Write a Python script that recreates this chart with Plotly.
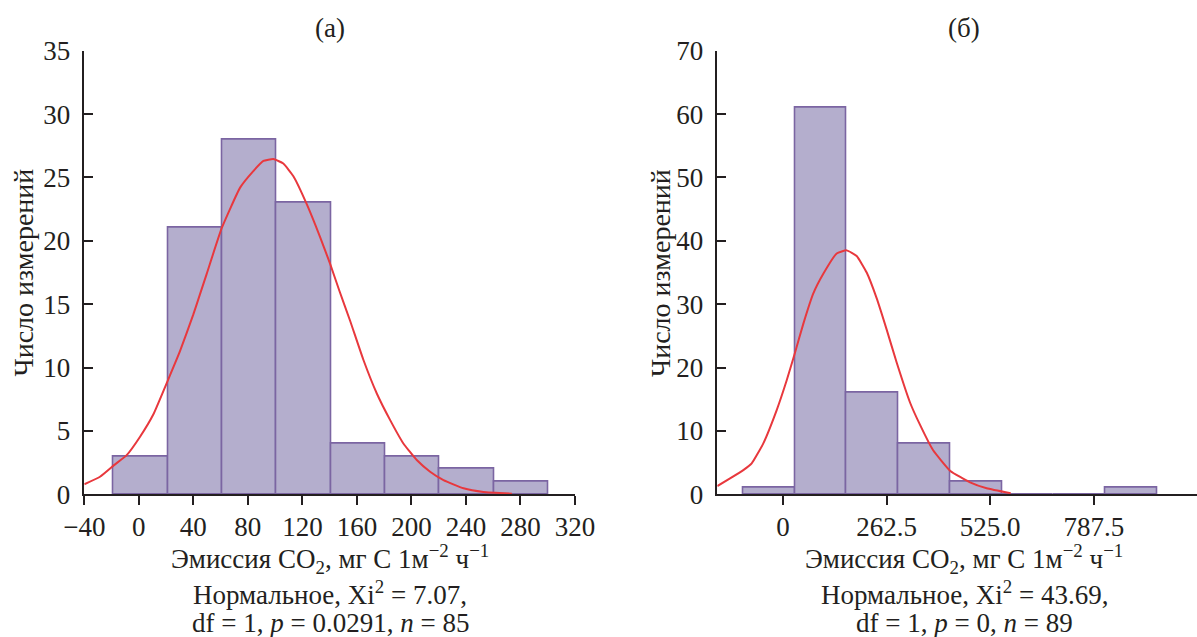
import plotly.graph_objects as go

# ---------------- data ----------------
# panel (а)
edges_a = [-18.4, 21.5, 61.3, 101.2, 141.0, 180.9, 220.7, 260.5, 300.3]
counts_a = [3, 21, 28, 23, 4, 3, 2, 1]
curve_a_x = [-40, -28.5, -18.2, -8.9, 0.9, 10.6, 21.7, 30.2, 40, 44.9, 49.8, 60.8, 74.3, 84,
             91.4, 98.7, 106, 113.4, 123.2, 133, 140.3, 147, 155, 164.8, 174.6, 184.4, 194.1,
             203.9, 213.7, 223.5, 238.2, 252.8, 273.7]
curve_a_y = [0.8, 1.39, 2.31, 3.1, 4.55, 6.3, 9.1, 11.3, 14.2, 15.8, 17.4, 21.0, 24.2, 25.5,
             26.3, 26.45, 26.1, 25.1, 22.9, 20.3, 18.2, 16.1, 13.7, 10.6, 7.96, 5.86, 4.02,
             2.71, 1.79, 1.13, 0.48, 0.19, 0.06]
xticks_a = [-40, 0, 40, 80, 120, 160, 200, 240, 280, 320]
xticktext_a = ["−40", "0", "40", "80", "120", "160", "200", "240", "280", "320"]
yticks_a = [0, 5, 10, 15, 20, 25, 30, 35]

# panel (б)
edges_b = [-100.8, 30.35, 161.5, 292.65, 423.8, 554.95, 686.1, 817.25, 948.4]
counts_b = [1, 61, 16, 8, 2, 0, 0, 1]
curve_b_x = [-166.5, -134.2, -100.6, -79.3, -49.9, -16, 9.4, 29.6, 51.4, 76.8, 102.1, 136,
             161.4, 186.7, 212, 237, 262.7, 288, 321.8, 347, 380, 424, 474, 516, 577]
curve_b_y = [1.32, 2.53, 3.84, 4.9, 8.05, 13.3, 18.0, 22.2, 26.9, 31.7, 34.8, 38.0,
             38.5, 37.6, 35.0, 31.0, 26.0, 20.8, 14.5, 11.0, 7.0, 3.7, 1.9, 0.96, 0.17]
xticks_b = [0, 262.5, 525.0, 787.5]
xticktext_b = ["0", "262.5", "525.0", "787.5"]
yticks_b = [0, 10, 20, 30, 40, 50, 60, 70]

titles = ["(а)", "(б)"]
xtitle = "Эмиссия CO<sub>2</sub>, мг C 1м<sup>−2</sup> ч<sup>−1</sup>"
ytitle = "Число измерений"
stats_a = ["Нормальное, Xi<sup>2</sup> = 7.07,", "df = 1, <i>p</i> = 0.0291, <i>n</i> = 85"]
stats_b = ["Нормальное, Xi<sup>2</sup> = 43.69,", "df = 1, <i>p</i> = 0, <i>n</i> = 89"]

# ---------------- style ----------------
W, H = 1197, 637
FONT = "Liberation Serif"
TXT = "#231f20"
FILL = "#b4aecd"
EDGE = "#7b65a2"
RED = "#e8383d"


def bars(edges, counts):
    centers = [(edges[i] + edges[i + 1]) / 2 for i in range(len(counts))]
    widths = [edges[i + 1] - edges[i] for i in range(len(counts))]
    return centers, widths


fig = go.Figure()
for k, (edges, counts, cx, cy) in enumerate([(edges_a, counts_a, curve_a_x, curve_a_y),
                                             (edges_b, counts_b, curve_b_x, curve_b_y)]):
    xa = "x" if k == 0 else "x2"
    ya = "y" if k == 0 else "y2"
    c, w = bars(edges, counts)
    fig.add_trace(go.Bar(x=c, y=counts, width=w, xaxis=xa, yaxis=ya,
                         marker=dict(color=FILL, line=dict(color=EDGE, width=1.6)),
                         showlegend=False, hoverinfo="skip"))
    fig.add_trace(go.Scatter(x=cx, y=cy, mode="lines", xaxis=xa, yaxis=ya,
                             line=dict(color=RED, width=2, shape="spline", smoothing=0.4),
                             showlegend=False, hoverinfo="skip"))

px = lambda v: v / W
py = lambda v: 1 - v / H

y_dom = [py(494.4), py(50.7)]
axis_common = dict(showline=True, linecolor=TXT, linewidth=1.5, showgrid=False, zeroline=False,
                   tickcolor=TXT, tickwidth=1.5, ticklen=9, automargin=False,
                   tickfont=dict(family=FONT, size=27, color=TXT))

fig.update_layout(
    template="none",
    width=W, height=H, margin=dict(l=0, r=0, t=0, b=0, autoexpand=False),
    paper_bgcolor="white", plot_bgcolor="white", bargap=0,
    xaxis=dict(domain=[px(84.3), px(575)], range=[-40, 320], anchor="y",
               tickmode="array", tickvals=xticks_a, ticktext=xticktext_a, ticks="outside",
               ticklabelstandoff=-2, **axis_common),
    yaxis=dict(domain=y_dom, range=[0, 35], anchor="x", tickmode="array", tickvals=yticks_a,
               ticks="inside", ticklabelstandoff=7, **axis_common),
    xaxis2=dict(domain=[px(717.3), 1.0], range=[-166.5, 1049], anchor="y2",
                tickmode="array", tickvals=xticks_b, ticktext=xticktext_b, ticks="outside",
                ticklabelstandoff=-2, **axis_common),
    yaxis2=dict(domain=y_dom, range=[0, 70], anchor="x2", tickmode="array", tickvals=yticks_b,
                ticks="inside", ticklabelstandoff=7, **axis_common),
)

ann = []
tfont = dict(family=FONT, size=27, color=TXT)
yfont = dict(family=FONT, size=28, color=TXT)
for cxp, t, stats, ytx in [(330, titles[0], stats_a, 22.5), (964, titles[1], stats_b, 660)]:
    ann.append(dict(x=px(cxp), y=py(28), xref="paper", yref="paper", text=t, showarrow=False,
                    font=tfont, xanchor="center", yanchor="middle"))
    ann.append(dict(x=px(cxp), y=py(559), xref="paper", yref="paper", text=xtitle,
                    showarrow=False, font=tfont, xanchor="center", yanchor="middle"))
    ann.append(dict(x=px(cxp), y=py(593), xref="paper", yref="paper", text=stats[0],
                    showarrow=False, font=tfont, xanchor="center", yanchor="middle"))
    ann.append(dict(x=px(cxp), y=py(623), xref="paper", yref="paper", text=stats[1],
                    showarrow=False, font=tfont, xanchor="center", yanchor="middle"))
    ann.append(dict(x=px(ytx), y=py(273), xref="paper", yref="paper", text=ytitle,
                    showarrow=False, font=yfont, textangle=-90, xanchor="center",
                    yanchor="middle"))
fig.update_layout(annotations=ann)

fig.write_html("out.html")
